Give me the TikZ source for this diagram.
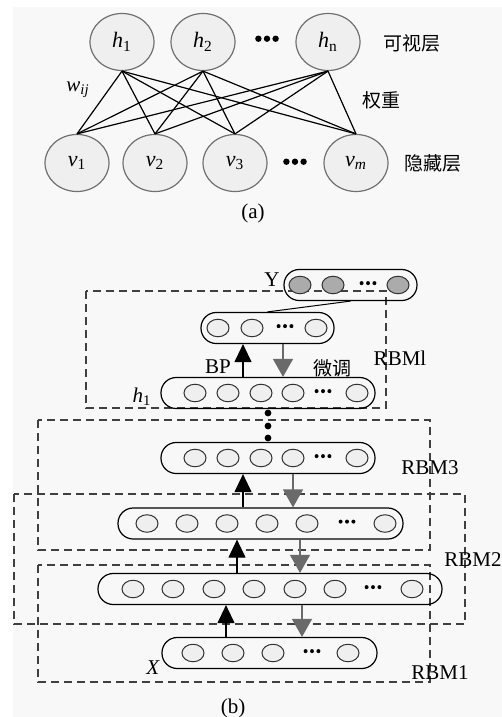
\documentclass[tikz,border=0pt]{standalone}
\usepackage{fontspec}
\setmainfont{Liberation Serif}
\newfontfamily\cjk{Noto Sans CJK SC}
\usepackage{xcolor}
\usepackage{tikz}
\usetikzlibrary{shapes.geometric}
\usetikzlibrary{arrows.meta}
\definecolor{bgray}{HTML}{F8F8F8}
\definecolor{cfill}{HTML}{EFEFEF}
\definecolor{cline}{HTML}{707070}
\definecolor{ydot}{HTML}{ABABAB}
\definecolor{darr}{HTML}{6A6A6A}
\def\dotsrow#1#2{\tikz[baseline=-0.6ex]{
	\foreach \i in {0,1,2} \fill (\i*#2,0) circle (#1);}
	}
\tikzset{
	neuron/.style={ellipse,draw=cline,fill=cfill,line width=0.6pt,minimum width=32pt,
		minimum height=28.5pt,inner sep=0pt,font=\fontsize{11}{12}\selectfont},
	unit/.style={ellipse,draw=black!80,fill=cfill,line width=0.5pt,minimum width=11pt,
		minimum height=8.75pt,inner sep=0pt},
	bar/.style={draw,line width=0.6pt,rounded corners=7.6pt,minimum height=15.5pt,
		inner sep=0pt,minimum width=#1},
	dashbox/.style={draw=black!75,line width=0.6pt,dash pattern=on 4pt off 2.5pt},
	uparr/.style={line width=0.6pt,-{Triangle[width=8.5pt,length=9pt]}},
	dnarr/.style={draw=darr,line width=0.6pt,-{Triangle[width=10pt,length=9pt]}},
	vdot/.style={circle,fill=black,inner sep=0pt,minimum size=3.4pt},
	cn/.style={font=\cjk\fontsize{9.5}{11}\selectfont}
}

\begin{document}
\begin{tikzpicture}[x=0.5pt,y=-0.5pt,font=\fontsize{10.5}{12}\selectfont]
	\useasboundingbox (0,0) rectangle (502,717);
	\fill[bgray] (13,7) rectangle (502,717);
	% (a)
	\node[neuron] (h1) at (122,42) {\textit{h}\textsubscript{1}};
	\node[neuron] (h2) at (203,42) {\textit{h}\textsubscript{2}};
	\node[neuron] (hn) at (328,42) {\textit{h}\textsubscript{n}};
	\node[neuron] (v1) at (77,163) {\textit{v}\textsubscript{1}};
	\node[neuron] (v2) at (155,163) {\textit{v}\textsubscript{2}};
	\node[neuron] (v3) at (235,163) {\textit{v}\textsubscript{3}};
	\node[neuron] (vm) at (356,163) {\textit{v}\textsubscript{\textit{m}}};
	\node (hdots) at (267,40) {\dotsrow{1.6pt}{4.3pt}};
	\node (vdots) at (295,163) {\dotsrow{1.6pt}{4.3pt}};
	\foreach \a in {h1,h2,hn}
		\foreach \b in {v1,v2,v3,vm}
			\draw[line width=0.6pt] (\a.south) -- (\b.north);
	\node[cn] (vis) at (412,43) {可视层};
	\node[cn] (wt) at (381,100) {权重};
	\node[cn] (hid) at (433,163) {隐藏层};
	\node (wij) at (78,90) {\textit{w}\textsubscript{\textit{ij}}};
	\node (capa) at (253,213) {(a)};
	% (b)
	\draw[dashbox] (86,291) rectangle (386,408);
	\draw[dashbox] (38,420) rectangle (430,550);
	\draw[dashbox] (14,494) rectangle (465,624);
	\draw[dashbox] (38,565) rectangle (430,682);
	\node[bar=66.5pt] (ybar) at (350.5,285) {};
	\node[bar=66.5pt] (l5) at (267.5,328) {};
	\node[bar=107pt] (hbar) at (268,393) {};
	\node[bar=107pt] (r3bar) at (268,458) {};
	\node[bar=142.5pt] (b4) at (260.5,523.5) {};
	\node[bar=172pt] (b5) at (270,589) {};
	\node[bar=107.5pt] (xbar) at (269.5,653) {};
	\foreach \x [count=\i] in {300,333,398}
		\node[unit,fill=ydot] (y\i) at (\x,285) {};
	\foreach \x [count=\i] in {218,252,316}
		\node[unit] (l5u\i) at (\x,328) {};
	\foreach \x [count=\i] in {195,228,261,293,357}
		\node[unit] (hu\i) at (\x,393) {};
	\foreach \x [count=\i] in {195,228,261,293,357}
		\node[unit] (r3u\i) at (\x,458) {};
	\foreach \x [count=\i] in {147,187,227,267,307,385}
		\node[unit] (b4u\i) at (\x,523.5) {};
	\foreach \x [count=\i] in {133,173,214,254,295,335,412}
		\node[unit] (b5u\i) at (\x,589) {};
	\foreach \x [count=\i] in {193,233,273,348}
		\node[unit] (xu\i) at (\x,653) {};
	\node (yd) at (368,285) {\dotsrow{1pt}{3.2pt}};
	\node (l5d) at (285,328) {\dotsrow{1pt}{3.2pt}};
	\node (hd) at (323,393) {\dotsrow{1pt}{3.2pt}};
	\node (r3d) at (323,458) {\dotsrow{1pt}{3.2pt}};
	\node (b4d) at (347,523.5) {\dotsrow{1pt}{3.2pt}};
	\node (b5d) at (373,589) {\dotsrow{1pt}{3.2pt}};
	\node (xd) at (312,653) {\dotsrow{1pt}{3.2pt}};
	\foreach \y [count=\i] in {413,426,438}
		\node[vdot] (vd\i) at (268,\y) {};
	\draw[line width=0.5pt] (ybar.south) -- (l5.north);
	\draw[uparr] (hbar.north -| 243,0) -- (l5.south -| 243,0);
	\draw[dnarr] (l5.south -| 283,0) -- (hbar.north -| 283,0);
	\draw[uparr] (b4.north -| 243,0) -- (r3bar.south -| 243,0);
	\draw[dnarr] (r3bar.south -| 293,0) -- (b4.north -| 293,0);
	\draw[uparr] (b5.north -| 237,0) -- (b4.south -| 237,0);
	\draw[dnarr] (b4.south -| 300,0) -- (b5.north -| 300,0);
	\draw[uparr] (xbar.north -| 226,0) -- (b5.south -| 226,0);
	\draw[dnarr] (b5.south -| 302,0) -- (xbar.north -| 302,0);
	\node (ylab) at (272,280) {Y};
	\node (bplab) at (218,367) {BP};
	\node[cn] (tune) at (332,368) {微调};
	\node (rbm4) at (400,358) {RBMl};
	\node (hlab) at (142,397) {\textit{h}\textsubscript{1}};
	\node (rbm3) at (430,468) {RBM3};
	\node (rbm2) at (473,560) {RBM2};
	\node (xlab) at (153,668) {\textit{X}};
	\node (rbm1) at (440,673) {RBM1};
	\node (capb) at (233,708) {(b)};
\end{tikzpicture}
\end{document}
